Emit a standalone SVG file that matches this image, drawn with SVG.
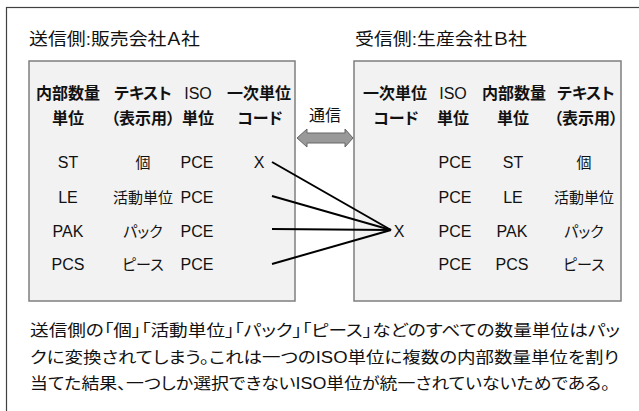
<svg xmlns="http://www.w3.org/2000/svg" width="639" height="411" viewBox="0 0 639 411">
<style>
text{font-family:"Liberation Sans","Noto Sans CJK JP",sans-serif;fill:#111;font-feature-settings:"palt" 1}
.t{font-size:17px}
.h{font-size:16px;font-weight:bold;text-anchor:middle}
.hr{font-size:16px;text-anchor:middle}
.d{font-size:16px;text-anchor:middle}
.dj{font-size:15px;text-anchor:middle}
.b{font-size:16px}
.box{fill:#f2f2f2;stroke:#7f7f7f;stroke-width:1.5}
.ln{stroke:#000;stroke-width:2;fill:none}
</style>
<rect width="639" height="411" fill="#fff"/>
<rect x="6.5" y="7.5" width="640" height="410" fill="none" stroke="#404040" stroke-width="1.2"/>
<text class="t" x="29" y="45" textLength="171" lengthAdjust="spacingAndGlyphs">送信側:販売会社Ａ社</text>
<text class="t" x="355" y="45" textLength="172" lengthAdjust="spacingAndGlyphs">受信側:生産会社Ｂ社</text>
<g id="sender">
<rect class="box" x="29" y="61" width="266" height="240"/>
<text class="h" x="68" y="99">内部数量</text>
<text class="h" x="143" y="99">テキスト</text>
<text class="hr" x="198" y="99">ISO</text>
<text class="h" x="259" y="99">一次単位</text>
<text class="h" x="68" y="124">単位</text>
<text class="h" x="143" y="124">（表示用）</text>
<text class="h" x="198" y="124">単位</text>
<text class="h" x="260" y="124">コード</text>
<text class="d" x="68" y="168">ST</text>
<text class="dj" x="143" y="168">個</text>
<text class="d" x="197" y="168">PCE</text>
<text class="d" x="259" y="168">X</text>
<text class="d" x="68" y="203">LE</text>
<text class="dj" x="143" y="203">活動単位</text>
<text class="d" x="197" y="203">PCE</text>
<text class="d" x="68" y="237">PAK</text>
<text class="dj" x="143" y="237">パック</text>
<text class="d" x="197" y="237">PCE</text>
<text class="d" x="68" y="270">PCS</text>
<text class="dj" x="143" y="270">ピース</text>
<text class="d" x="197" y="270">PCE</text>
</g>
<g id="receiver">
<rect class="box" x="354" y="61" width="267" height="240"/>
<text class="h" x="395" y="99">一次単位</text>
<text class="hr" x="453" y="99">ISO</text>
<text class="h" x="514" y="99">内部数量</text>
<text class="h" x="586" y="99">テキスト</text>
<text class="h" x="396" y="124">コード</text>
<text class="h" x="453" y="124">単位</text>
<text class="h" x="513" y="124">単位</text>
<text class="h" x="586" y="124">（表示用）</text>
<text class="d" x="455" y="168">PCE</text>
<text class="d" x="513" y="168">ST</text>
<text class="dj" x="584" y="168">個</text>
<text class="d" x="455" y="203">PCE</text>
<text class="d" x="513" y="203">LE</text>
<text class="dj" x="584" y="203">活動単位</text>
<text class="d" x="399" y="237">X</text>
<text class="d" x="455" y="237">PCE</text>
<text class="d" x="512" y="237">PAK</text>
<text class="dj" x="584" y="237">パック</text>
<text class="d" x="455" y="270">PCE</text>
<text class="d" x="512" y="270">PCS</text>
<text class="dj" x="584" y="270">ピース</text>
</g>
<g id="comm">
<text class="b" x="325" y="121" text-anchor="middle">通信</text>
<path d="M297,138 L307,129 L307,133 L345,133 L345,129 L353,138 L345,147 L345,143 L307,143 L307,147 Z" fill="#999" stroke="#666" stroke-width="1"/>
</g>
<g id="connectors">
<line class="ln" x1="272" y1="162" x2="391" y2="230"/>
<line class="ln" x1="272" y1="196" x2="391" y2="230"/>
<line class="ln" x1="272" y1="229" x2="391" y2="230"/>
<line class="ln" x1="272" y1="264" x2="391" y2="230"/>
</g>
<g id="note">
<text class="b" x="30" y="336" textLength="590" lengthAdjust="spacingAndGlyphs">送信側の「個」「活動単位」「パック」「ピース」などのすべての数量単位はパッ</text>
<text class="b" x="30" y="363" textLength="589" lengthAdjust="spacingAndGlyphs">クに変換されてしまう。これは一つのISO単位に複数の内部数量単位を割り</text>
<text class="b" x="30" y="389" textLength="580" lengthAdjust="spacingAndGlyphs">当てた結果、一つしか選択できないISO単位が統一されていないためである。</text>
</g>
</svg>
